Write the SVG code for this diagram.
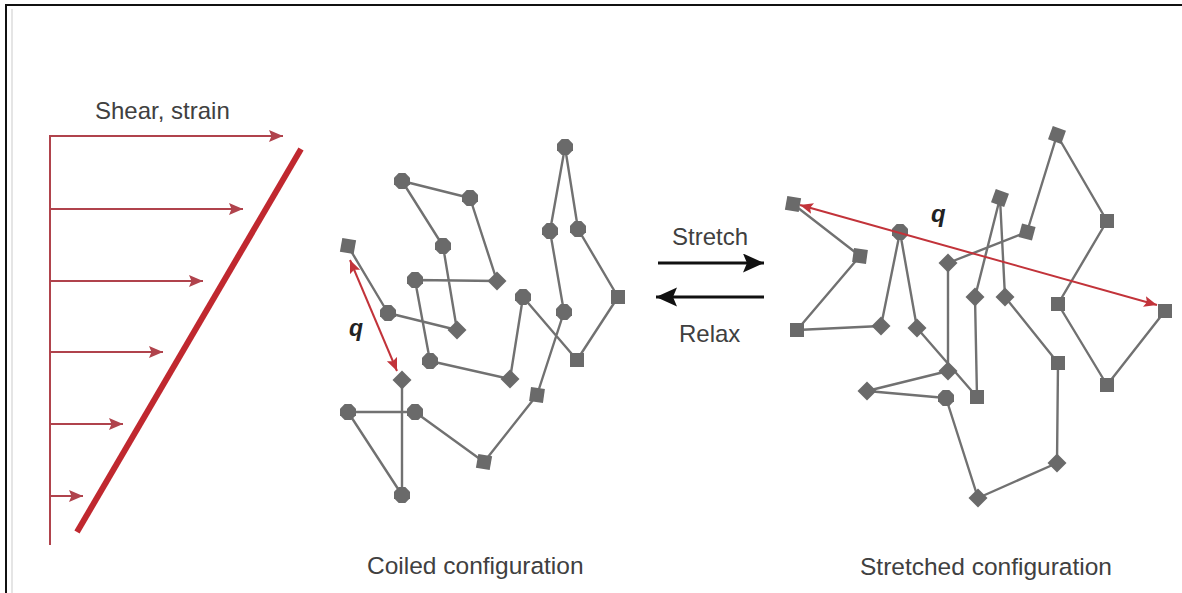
<svg xmlns="http://www.w3.org/2000/svg" xmlns:xlink="http://www.w3.org/1999/xlink" width="1182" height="593" viewBox="0 0 1182 593">
  <style>
    .bond { fill: none; stroke: #717171; stroke-width: 2.4; stroke-linejoin: round; }
    .bead { fill: #6a6a6a; }
    .label { font-family: "Liberation Sans", Arial, sans-serif; fill: #404040; }
    .qlab { font-family: "Liberation Sans", Arial, sans-serif; font-weight: bold; font-style: italic; fill: #222; }
    .shear { stroke: #b0434c; stroke-width: 2; fill: none; }
    .qarrow { stroke: #c2333a; stroke-width: 2; fill: none; }
    .move { stroke: #111; stroke-width: 3.2; fill: none; }
  </style>
  <defs>
    <!-- bead shapes, centred on the origin -->
    <rect id="sq" x="-7" y="-7" width="14" height="14"/>
    <polygon id="dm" points="0,-9.5 9.5,0 0,9.5 -9.5,0"/>
    <polygon id="oc" points="8,3.3 3.3,8 -3.3,8 -8,3.3 -8,-3.3 -3.3,-8 3.3,-8 8,-3.3"/>
    <marker id="headShear" markerUnits="userSpaceOnUse" markerWidth="15" markerHeight="13" refX="14" refY="6" orient="auto">
      <path d="M0,0 L14,6 L0,12 L2.5,6 Z" fill="#b0434c"/>
    </marker>
    <marker id="headQ" markerUnits="userSpaceOnUse" markerWidth="14" markerHeight="12" refX="13" refY="5.5" orient="auto-start-reverse">
      <path d="M0,0 L13,5.5 L0,11 L2.5,5.5 Z" fill="#c2333a"/>
    </marker>
    <marker id="headMove" markerUnits="userSpaceOnUse" markerWidth="22" markerHeight="20" refX="21" refY="9.5" orient="auto">
      <path d="M0,0 L21,9.5 L0,19 L4,9.5 Z" fill="#111"/>
    </marker>
  </defs>

  <rect x="0" y="0" width="1182" height="593" fill="#ffffff"/>
  <!-- frame -->
  <g id="frame">
    <line x1="6" y1="5" x2="1182" y2="5" stroke="#111" stroke-width="2"/>
    <line x1="6" y1="4" x2="6" y2="593" stroke="#111" stroke-width="2"/>
    <line x1="12" y1="9" x2="12" y2="593" stroke="#dcdcdc" stroke-width="1.5"/>
  </g>

  <!-- shear flow profile -->
  <g id="shear">
    <line class="shear" x1="50" y1="135" x2="50" y2="545" stroke="#a8525a"/>
    <line class="shear" x1="50" y1="136" x2="283" y2="136" marker-end="url(#headShear)"/>
    <line class="shear" x1="50" y1="209" x2="243" y2="209" marker-end="url(#headShear)"/>
    <line class="shear" x1="50" y1="281" x2="203" y2="281" marker-end="url(#headShear)"/>
    <line class="shear" x1="50" y1="352" x2="163" y2="352" marker-end="url(#headShear)"/>
    <line class="shear" x1="50" y1="424" x2="123" y2="424" marker-end="url(#headShear)"/>
    <line class="shear" x1="50" y1="496" x2="83" y2="496" marker-end="url(#headShear)"/>
    <line x1="301" y1="149" x2="77" y2="532" stroke="#c0282f" stroke-width="6"/>
    <text class="label" x="95" y="119" font-size="24">Shear, strain</text>
  </g>

  <!-- bonds of both chains -->
  <g id="connectors">
    <polyline id="coiled-bonds" class="bond" points="348,246 388,313 457,330 443,246 402,181 470,198 497,281 415,280 430,361 510,379 523,297 577,360 618,297 578,229 565,147 550,231 564,312 537,395 484,462 415,412 348,412 402,495 402,380"/>
    <polyline id="stretched-bonds" class="bond" points="793,204 860,256 797,330 881,326 900,232 917,328 977,397 975,297 1000,198 1005,297 1058,363 1057,463 978,498 946,398 867,391 948,371 948,263 1027,232 1057,135 1107,221 1058,304 1107,385 1165,311"/>
  </g>

  <!-- coiled chain beads -->
  <g id="coiled" class="bead">
    <g id="c01"><use href="#sq" transform="translate(348,246) rotate(10)"/></g>
    <g id="c02"><use href="#oc" transform="translate(388,313)"/></g>
    <g id="c03"><use href="#dm" transform="translate(457,330)"/></g>
    <g id="c04"><use href="#oc" transform="translate(443,246)"/></g>
    <g id="c05"><use href="#oc" transform="translate(402,181)"/></g>
    <g id="c06"><use href="#oc" transform="translate(470,198)"/></g>
    <g id="c07"><use href="#dm" transform="translate(497,281)"/></g>
    <g id="c08"><use href="#oc" transform="translate(415,280)"/></g>
    <g id="c09"><use href="#oc" transform="translate(430,361)"/></g>
    <g id="c10"><use href="#dm" transform="translate(510,379)"/></g>
    <g id="c11"><use href="#oc" transform="translate(523,297)"/></g>
    <g id="c12"><use href="#sq" transform="translate(577,360)"/></g>
    <g id="c13"><use href="#sq" transform="translate(618,297)"/></g>
    <g id="c14"><use href="#oc" transform="translate(578,229)"/></g>
    <g id="c15"><use href="#oc" transform="translate(565,147)"/></g>
    <g id="c16"><use href="#oc" transform="translate(550,231)"/></g>
    <g id="c17"><use href="#oc" transform="translate(564,312)"/></g>
    <g id="c18"><use href="#sq" transform="translate(537,395) rotate(8)"/></g>
    <g id="c19"><use href="#sq" transform="translate(484,462) rotate(10)"/></g>
    <g id="c20"><use href="#oc" transform="translate(415,412)"/></g>
    <g id="c21"><use href="#oc" transform="translate(348,412)"/></g>
    <g id="c22"><use href="#oc" transform="translate(402,495)"/></g>
    <g id="c23"><use href="#dm" transform="translate(402,380)"/></g>
  </g>

  <!-- stretched chain beads -->
  <g id="stretched" class="bead">
    <g id="s01"><use href="#sq" transform="translate(793,204) rotate(10)"/></g>
    <g id="s02"><use href="#sq" transform="translate(860,256) rotate(8)"/></g>
    <g id="s03"><use href="#sq" transform="translate(797,330)"/></g>
    <g id="s04"><use href="#dm" transform="translate(881,326)"/></g>
    <g id="s05"><use href="#oc" transform="translate(900,232)"/></g>
    <g id="s06"><use href="#dm" transform="translate(917,328)"/></g>
    <g id="s07"><use href="#sq" transform="translate(977,397)"/></g>
    <g id="s08"><use href="#dm" transform="translate(975,297)"/></g>
    <g id="s09"><use href="#sq" transform="translate(1000,198) rotate(20)"/></g>
    <g id="s10"><use href="#dm" transform="translate(1005,297)"/></g>
    <g id="s11"><use href="#sq" transform="translate(1058,363)"/></g>
    <g id="s12"><use href="#dm" transform="translate(1057,463)"/></g>
    <g id="s13"><use href="#dm" transform="translate(978,498)"/></g>
    <g id="s14"><use href="#oc" transform="translate(946,398)"/></g>
    <g id="s15"><use href="#dm" transform="translate(867,391)"/></g>
    <g id="s16"><use href="#dm" transform="translate(948,371)"/></g>
    <g id="s17"><use href="#dm" transform="translate(948,263)"/></g>
    <g id="s18"><use href="#sq" transform="translate(1027,232) rotate(15)"/></g>
    <g id="s19"><use href="#sq" transform="translate(1057,135) rotate(20)"/></g>
    <g id="s20"><use href="#sq" transform="translate(1107,221)"/></g>
    <g id="s21"><use href="#sq" transform="translate(1058,304)"/></g>
    <g id="s22"><use href="#sq" transform="translate(1107,385)"/></g>
    <g id="s23"><use href="#sq" transform="translate(1165,311)"/></g>
  </g>

  <!-- end-to-end distance q -->
  <g id="q-coiled">
    <line class="qarrow" x1="350" y1="260" x2="397" y2="371" marker-start="url(#headQ)" marker-end="url(#headQ)"/>
    <text class="qlab" x="349" y="336" font-size="23">q</text>
  </g>
  <g id="q-stretched">
    <line class="qarrow" x1="800" y1="205" x2="1157" y2="305" marker-start="url(#headQ)" marker-end="url(#headQ)"/>
    <text class="qlab" x="931" y="222" font-size="24">q</text>
  </g>

  <!-- stretch / relax -->
  <g id="transition">
    <line class="move" x1="658" y1="263" x2="764" y2="263" marker-end="url(#headMove)"/>
    <line class="move" x1="764" y1="297" x2="656" y2="297" marker-end="url(#headMove)"/>
    <text class="label" x="672" y="245" font-size="24">Stretch</text>
    <text class="label" x="679" y="342" font-size="24">Relax</text>
  </g>

  <g id="captions">
    <text class="label" x="367" y="574" font-size="24.5">Coiled configuration</text>
    <text class="label" x="860" y="575" font-size="24.5">Stretched configuration</text>
  </g>
</svg>
